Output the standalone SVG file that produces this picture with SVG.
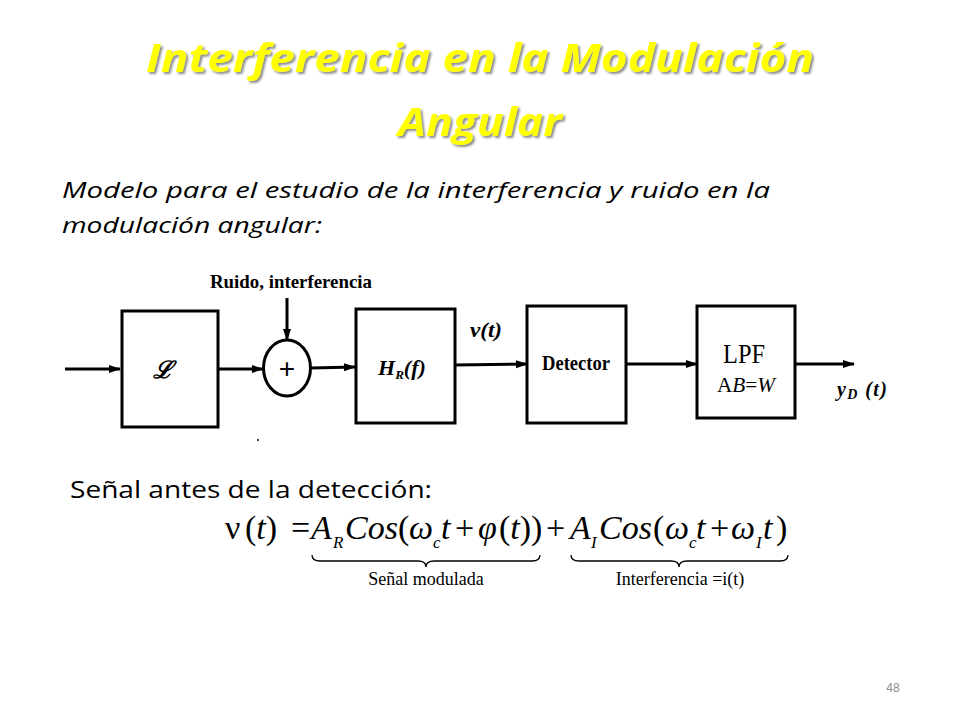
<svg xmlns="http://www.w3.org/2000/svg" width="960" height="720" viewBox="0 0 960 720">
<defs>
<marker id="ah" markerWidth="12" markerHeight="10" refX="11" refY="5" orient="auto" markerUnits="userSpaceOnUse">
<path d="M0,1 L12,5 L0,9 Z" fill="#000"/>
</marker>
<filter id="shadow" x="-5%" y="-20%" width="110%" height="150%">
<feDropShadow dx="2" dy="2" stdDeviation="1" flood-color="#707070" flood-opacity="0.8"/>
</filter>
</defs>
<style>
.title{font-family:"Open Sans","Liberation Sans",Arial,sans-serif;font-weight:bold;font-style:italic;font-size:40px;fill:#FFFF00;filter:url(#shadow);}
.body{font-family:"Open Sans","Liberation Sans",Arial,sans-serif;font-size:21px;font-style:italic;fill:#000;}
.plain{font-family:"Open Sans","Liberation Sans",Arial,sans-serif;font-size:23px;fill:#000;}
.box{fill:#fff;stroke:#000;stroke-width:3;}
.wire{fill:none;stroke:#000;stroke-width:3;}
.lbl{font-family:"Liberation Serif","Times New Roman",serif;font-weight:bold;fill:#000;}
.eq{font-family:"Liberation Serif","Times New Roman",serif;font-size:34px;fill:#000;}
.it{font-style:italic;}
.sub{font-size:17px;font-style:italic;}
.ulbl{font-family:"Liberation Serif","Times New Roman",serif;font-size:18px;fill:#000;}
.brace{fill:none;stroke:#000;stroke-width:1.3;}
</style>
<rect width="960" height="720" fill="#fff"/>

<g id="title">
<text class="title" x="480" y="72" text-anchor="middle" textLength="668" lengthAdjust="spacingAndGlyphs">Interferencia en la Modulación</text>
<text class="title" x="480" y="136" text-anchor="middle" textLength="164" lengthAdjust="spacingAndGlyphs">Angular</text>
</g>

<g id="intro">
<text class="body" x="62" y="198" textLength="708" lengthAdjust="spacingAndGlyphs">Modelo para el estudio de la interferencia  y ruido en la</text>
<text class="body" x="62" y="233" textLength="260" lengthAdjust="spacingAndGlyphs">modulación angular:</text>
</g>

<g id="connectors">
<line class="wire" x1="65" y1="369" x2="120" y2="369" marker-end="url(#ah)"/>
<line class="wire" x1="218" y1="369" x2="263" y2="369" marker-end="url(#ah)"/>
<line class="wire" x1="287" y1="298" x2="287" y2="340" marker-end="url(#ah)"/>
<line class="wire" x1="311" y1="368" x2="355" y2="367" marker-end="url(#ah)"/>
<line class="wire" x1="455" y1="365" x2="527" y2="364" marker-end="url(#ah)"/>
<line class="wire" x1="626" y1="364" x2="697" y2="364" marker-end="url(#ah)"/>
<line class="wire" x1="795" y1="364" x2="854" y2="364" marker-end="url(#ah)"/>
</g>

<g id="noise-label">
<text class="lbl" x="210" y="288" font-size="19" textLength="162" lengthAdjust="spacingAndGlyphs">Ruido, interferencia</text>
</g>

<g id="block-L">
<rect class="box" x="122" y="311" width="96" height="116"/>
<text class="lbl" x="163" y="378" font-size="24" text-anchor="middle" font-style="italic">ℒ</text>
</g>

<g id="summer">
<ellipse class="box" cx="287" cy="368" rx="23.5" ry="28"/>
<text x="287" y="378" font-family="'Liberation Sans',Arial,sans-serif" font-size="28" text-anchor="middle" fill="#000">+</text>
</g>

<g id="block-HR">
<rect class="box" x="356" y="309" width="99" height="114"/>
<text class="lbl" x="378" y="375" font-size="22" font-style="italic">H<tspan font-size="13" dy="4">R</tspan><tspan dy="-4">(</tspan><tspan>f</tspan>)</text>
</g>

<g id="vt-label">
<text class="lbl" x="470" y="337" font-size="20" font-style="italic" textLength="32" lengthAdjust="spacingAndGlyphs">v(t)</text>
</g>

<g id="block-detector">
<rect class="box" x="527" y="306" width="99" height="117"/>
<text class="lbl" x="576" y="370" font-size="20" text-anchor="middle" textLength="68" lengthAdjust="spacingAndGlyphs">Detector</text>
</g>

<g id="block-LPF">
<rect class="box" x="697" y="306" width="98" height="112"/>
<text x="744" y="363" font-family="'Liberation Serif','Times New Roman',serif" font-size="28" text-anchor="middle" textLength="42" lengthAdjust="spacingAndGlyphs">LPF</text>
<text x="746" y="392" font-family="'Liberation Serif','Times New Roman',serif" font-size="20" text-anchor="middle" textLength="58" lengthAdjust="spacingAndGlyphs">A<tspan font-style="italic">B</tspan>=<tspan font-style="italic">W</tspan></text>
</g>

<g id="output-label">
<text class="lbl" x="837" y="396" font-size="20" font-style="italic" textLength="50" lengthAdjust="spacing">y<tspan font-size="14" dy="3">D</tspan><tspan dy="-3"> (t)</tspan></text>
</g>

<circle cx="258" cy="440" r="1" fill="#000"/>

<g id="subtitle">
<text class="plain" x="70" y="498" textLength="362" lengthAdjust="spacingAndGlyphs">Señal antes de la detección:</text>
</g>

<g id="equation">
<text class="eq" y="539"><tspan x="225">ν</tspan><tspan x="245">(</tspan><tspan class="it">t</tspan><tspan>)</tspan><tspan x="291">=</tspan><tspan x="311" class="it">A</tspan><tspan x="333" y="548" class="sub">R</tspan><tspan x="345" y="539" class="it">Cos</tspan><tspan x="398">(</tspan><tspan x="409" class="it">ω</tspan><tspan x="433" y="548" class="sub">c</tspan><tspan x="441" y="539" class="it">t</tspan><tspan x="455">+</tspan><tspan x="478" class="it">φ</tspan><tspan x="499">(</tspan><tspan class="it">t</tspan><tspan>))</tspan><tspan x="546">+</tspan><tspan x="570" class="it">A</tspan><tspan x="591" y="548" class="sub">I</tspan><tspan x="599" y="539" class="it">Cos</tspan><tspan x="653">(</tspan><tspan x="665" class="it">ω</tspan><tspan x="689" y="548" class="sub">c</tspan><tspan x="696" y="539" class="it">t</tspan><tspan x="710">+</tspan><tspan x="731" class="it">ω</tspan><tspan x="756" y="548" class="sub">I</tspan><tspan x="763" y="539" class="it">t</tspan><tspan x="776">)</tspan></text>
<path class="brace" d="M312,555 Q312,561 320,561 L418,561 Q426,561 426,567 Q426,561 434,561 L532,561 Q540,561 540,555"/>
<path class="brace" d="M571,555 Q571,561 579,561 L671,561 Q679,561 679,567 Q679,561 687,561 L780,561 Q788,561 788,555"/>
<text class="ulbl" x="426" y="585" text-anchor="middle">Señal modulada</text>
<text class="ulbl" x="680" y="585" text-anchor="middle">Interferencia =i(t)</text>
</g>

<text x="893" y="692" font-family="'Liberation Sans',Arial,sans-serif" font-size="12" fill="#8c8c8c" text-anchor="middle">48</text>
</svg>
